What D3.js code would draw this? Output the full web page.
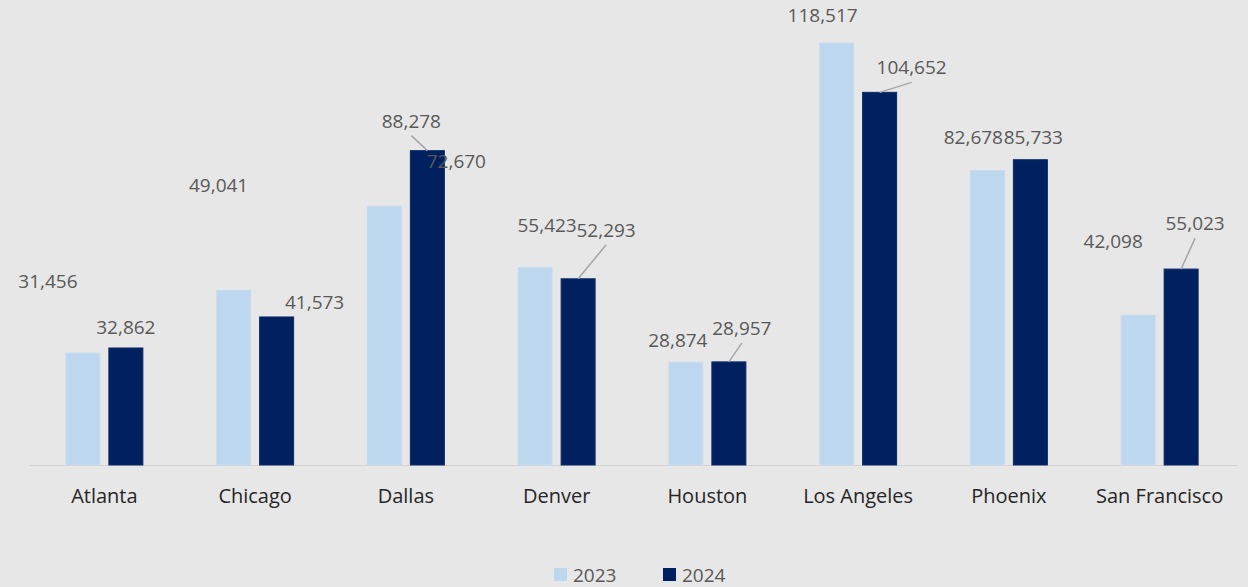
<!DOCTYPE html>
<html>
<head>
<meta charset="utf-8">
<script src="https://cdn.jsdelivr.net/npm/d3@7"></script>
<style>
  html, body { margin: 0; padding: 0; background: #e7e7e7; }
  svg { display: block; }
</style>
</head>
<body>
<svg id="chart" width="1248" height="587"></svg>
<script>
// ---- data ----
const cities = ["Atlanta", "Chicago", "Dallas", "Denver", "Houston", "Los Angeles", "Phoenix", "San Francisco"];
const years = ["2023", "2024"];
const values2023 = [31456, 49041, 72670, 55423, 28874, 118517, 82678, 42098];
const values2024 = [32862, 41573, 88278, 52293, 28957, 104652, 85733, 55023];
// data labels as shown in the picture (Dallas labels are swapped in the original)
const labels2023 = ["31,456", "49,041", "72,670", "55,423", "28,874", "118,517", "82,678", "42,098"];
const labels2024 = ["32,862", "41,573", "88,278", "52,293", "28,957", "104,652", "85,733", "55,023"];

// label placement offsets (layout only, from bar top centre)
const labelDx2023 = [-35, -15, 72, 12, -8, -14, -14, -25];
const labelDy2023 = [-72, -105, -45, -43, -22, -28, -34, -74];
const labelDx2024 = [0, 38, -16, 28, 13, 32, 3, 14];
const labelDy2024 = [-21, -15, -30, -49, -34, -25, -23, -46];
const leader2024 = [false, false, true, true, true, true, false, true];

const colors = { "2023": "#bdd7ee", "2024": "#002060" };

// ---- scales ----
const svg = d3.select("#chart");
const baseY = 465;
const x0 = d3.scaleBand().domain(cities).range([29, 1235]).padding(0);
const x1 = d3.scaleBand().domain(years).range([0, x0.bandwidth()]).paddingInner(0.2093).paddingOuter(0.8576);
const y = d3.scaleLinear().domain([0, 120000]).range([baseY, 37.7]);

const rows = cities.map((c, i) => ({
  city: c,
  vals: [
    { year: "2023", v: values2023[i], label: labels2023[i], dx: labelDx2023[i], dy: labelDy2023[i], leader: false },
    { year: "2024", v: values2024[i], label: labels2024[i], dx: labelDx2024[i], dy: labelDy2024[i], leader: leader2024[i] }
  ]
}));

// baseline
svg.append("line")
  .attr("x1", 29).attr("x2", 1237)
  .attr("y1", baseY + 0.5).attr("y2", baseY + 0.5)
  .attr("stroke", "#d4d4d4").attr("stroke-width", 1.2);

const g = svg.selectAll("g.city").data(rows).join("g")
  .attr("class", "city")
  .attr("transform", d => `translate(${x0(d.city)},0)`);

g.selectAll("rect").data(d => d.vals).join("rect")
  .attr("x", d => x1(d.year))
  .attr("y", d => y(d.v))
  .attr("width", x1.bandwidth())
  .attr("height", d => y(0) - y(d.v))
  .attr("fill", d => colors[d.year])
  .attr("stroke", d => d.year === "2023" ? "#c9dcef" : "#0a2a66")
  .attr("stroke-width", 1);

// leader lines
g.selectAll("line.leader").data(d => d.vals.filter(v => v.leader)).join("line")
  .attr("class", "leader")
  .attr("x1", d => x1(d.year) + x1.bandwidth() / 2 + d.dx)
  .attr("y1", d => y(d.v) + d.dy + 15)
  .attr("x2", d => x1(d.year) + x1.bandwidth() / 2)
  .attr("y2", d => y(d.v))
  .attr("stroke", "#a6a6a6").attr("stroke-width", 1.5);

// value labels
g.selectAll("text.val").data(d => d.vals).join("text")
  .attr("class", "val")
  .attr("x", d => x1(d.year) + x1.bandwidth() / 2 + d.dx)
  .attr("y", d => y(d.v) + d.dy)
  .attr("text-anchor", "middle")
  .attr("dominant-baseline", "central")
  .attr("font-family", "Open Sans, sans-serif")
  .attr("font-size", 19)
  .attr("fill", "#595959")
  .text(d => d.label);

// category axis
const xAxis = svg.append("g")
  .attr("transform", `translate(0,${baseY})`)
  .call(d3.axisBottom(x0).tickSize(0).tickPadding(0));
xAxis.select(".domain").remove();
xAxis.selectAll("text")
  .attr("y", 30)
  .attr("dy", null)
  .attr("dominant-baseline", "central")
  .attr("font-family", "Open Sans, sans-serif")
  .attr("font-size", 20)
  .attr("fill", "#262626");

// legend
const legendX = [554, 663];
const leg = svg.selectAll("g.legend").data(years).join("g")
  .attr("class", "legend")
  .attr("transform", (d, i) => `translate(${legendX[i]},568)`);
leg.append("rect").attr("width", 13).attr("height", 13)
  .attr("fill", d => colors[d]);
leg.append("text")
  .attr("x", 19).attr("y", 7)
  .attr("dominant-baseline", "central")
  .attr("font-family", "Open Sans, sans-serif")
  .attr("font-size", 19)
  .attr("fill", "#595959")
  .text(d => d);
</script>
</body>
</html>
